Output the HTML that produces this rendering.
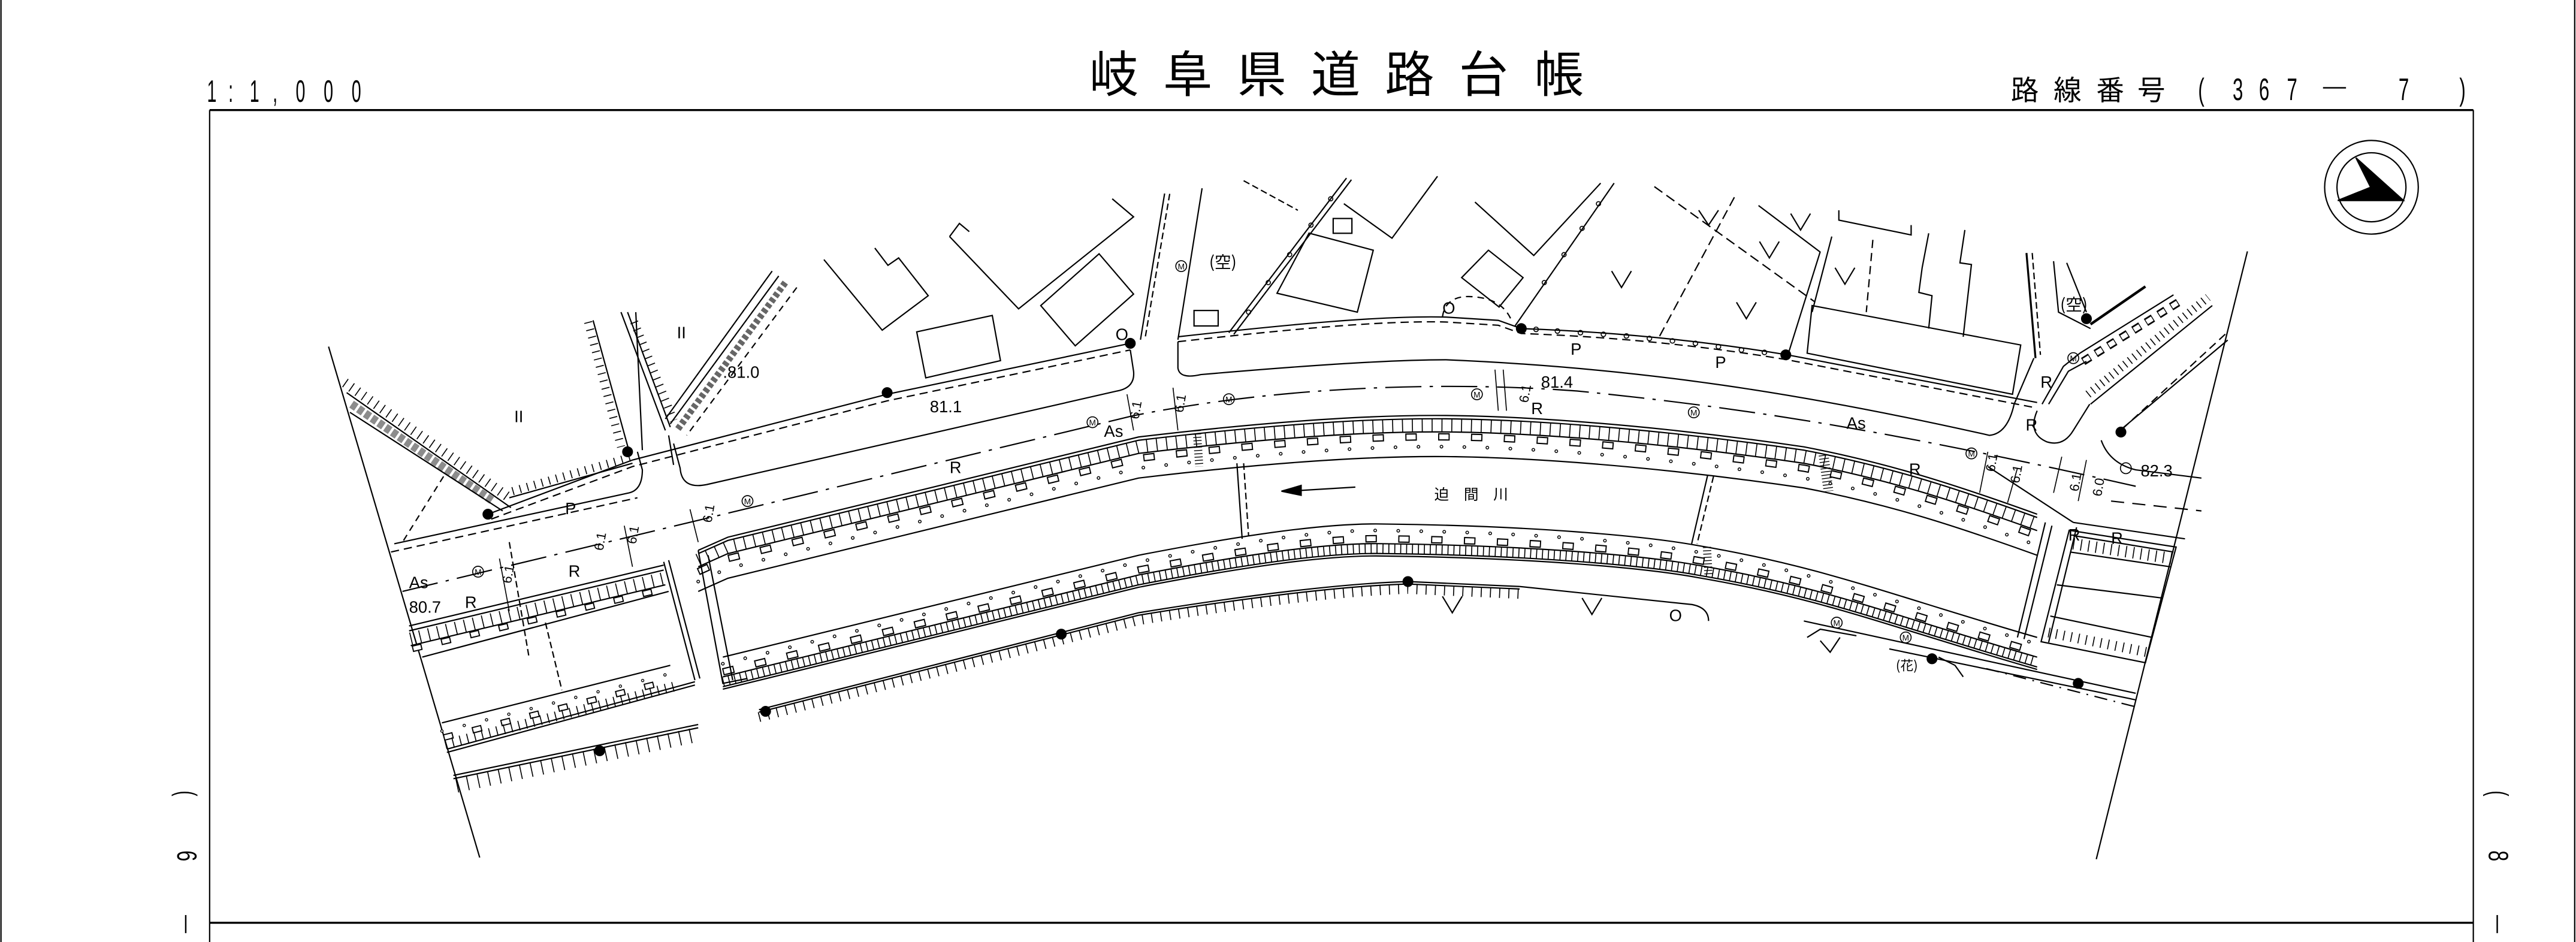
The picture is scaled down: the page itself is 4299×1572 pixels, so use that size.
<!DOCTYPE html>
<html><head><meta charset="utf-8"><style>
html,body{margin:0;padding:0;background:#fff;}
svg{display:block;}
text{font-family:"Liberation Sans","Noto Sans CJK JP",sans-serif;fill:#000;stroke:none;}
</style></head><body>
<svg width="4299" height="1572" viewBox="0 0 1568 573.4" preserveAspectRatio="none" xmlns="http://www.w3.org/2000/svg">
<defs>
<path id="NB" d="M 425 335 L 443 327 L 693 266 C 760 258 830 252 886 253 C 950 254 1030 262 1098 272 C 1150 282 1190 295 1240 313"/>
<path id="SB" d="M 440 400 L 693 338 C 760 325 810 318 844 319 C 930 320 1000 326 1033 332 C 1110 345 1150 362 1240 388"/>
<path id="SBK" d="M 462 432 L 693 373 C 760 362 820 355 857 354 L 925 357"/>
<path id="LT" d="M 249 381 L 404 344"/>
<path id="LB" d="M 269 440 L 408 405"/>
</defs>
<rect width="1568" height="573.4" fill="#fff"/>
<g stroke="#000" fill="none" stroke-width="0.8">
<!-- sheet lines -->
<line x1="0.6" y1="0" x2="0.6" y2="573.4"/>
<line x1="1567.2" y1="0" x2="1567.2" y2="573.4"/>
<line x1="127.6" y1="67" x2="1505.5" y2="67" stroke-width="1.2"/>
<line x1="127.6" y1="67" x2="127.6" y2="573.4"/>
<line x1="1505.5" y1="67" x2="1505.5" y2="573.4"/>
<line x1="127.6" y1="561.7" x2="1505.5" y2="561.7" stroke-width="1.2"/>
<!-- compass -->
<ellipse cx="1443.5" cy="114" rx="28.5" ry="28.5"/>
<ellipse cx="1443.5" cy="114" rx="21" ry="21"/>
<line x1="1423" y1="122" x2="1463" y2="122"/>
<polygon points="1434,96 1443,114 1423,122 1463,122" fill="#000"/>

<!-- boundaries -->
<line x1="200" y1="211" x2="292" y2="522"/>
<line x1="1368" y1="153" x2="1276" y2="523"/>

<!-- north road boundary -->
<path d="M 297 313 L 385 280 L 540 240 L 688 209"/>
<path d="M 299 316 L 385 284 L 540 244 L 688 213" stroke-dasharray="5 3"/>
<path d="M 717 205 C 780 198 840 192 880 193 L 912 195 L 926 200 Q 1010 203 1088 216 L 1240 245"/>
<path d="M 717 208 C 780 201 840 195 880 196 L 912 198 L 926 203 Q 1010 206 1088 219 L 1238 248" stroke-dasharray="5 3"/>
<path d="M 878 193 Q 880 178 900 181 Q 915 183 920 195" stroke-dasharray="4 3"/>
<!-- curbs -->
<path d="M 430 295 L 680 238 Q 691 236 690 226 L 688 213"/>
<path d="M 717 208 L 717 224 Q 718 231 731 228 C 800 222 850 219 880 219 C 1000 224 1100 240 1211 265 Q 1222 264 1226 246 L 1238 218"/>
<path d="M 430 295 Q 415 298 414 285 L 410 270"/>
<!-- left road -->
<path d="M 240 331 L 383 300 Q 391 298 391 286 L 388 275"/>
<path d="M 238 336 L 388 303" stroke-dasharray="5 3"/>
<!-- center dash-dot -->
<path d="M 245 360 L 690 253 C 780 235 880 232 960 238 C 1060 248 1150 262 1300 296" stroke-dasharray="22 5 2 5"/>

<!-- river north band -->
<use href="#NB"/>
<use href="#NB" transform="translate(0,2)"/>
<use href="#NB" transform="translate(0,6)" stroke-width="8" stroke-dasharray="0.6 5.4"/>
<use href="#NB" transform="translate(0,10)"/>
<use href="#NB" transform="translate(0,13)" stroke-width="4.5" stroke-dasharray="7 13"/>
<use href="#NB" transform="translate(0,13)" stroke-width="3" stroke="#fff" stroke-dasharray="5.6 14.4" stroke-dashoffset="-0.7"/>
<use href="#NB" transform="translate(0,19)" stroke-width="2.2" stroke-linecap="round" stroke-dasharray="0 14"/>
<use href="#NB" transform="translate(0,19)" stroke-width="1.1" stroke="#fff" stroke-linecap="round" stroke-dasharray="0 14"/>
<use href="#NB" transform="translate(0,25)"/>
<!-- river south band -->
<use href="#SB"/>
<use href="#SB" transform="translate(0,4)" stroke-width="2.2" stroke-linecap="round" stroke-dasharray="0 14"/>
<use href="#SB" transform="translate(0,4)" stroke-width="1.1" stroke="#fff" stroke-linecap="round" stroke-dasharray="0 14"/>
<use href="#SB" transform="translate(0,9)" stroke-width="4.5" stroke-dasharray="7 13"/>
<use href="#SB" transform="translate(0,9)" stroke-width="3" stroke="#fff" stroke-dasharray="5.6 14.4" stroke-dashoffset="-0.7"/>
<use href="#SB" transform="translate(0,12)"/>
<use href="#SB" transform="translate(0,15)" stroke-width="6" stroke-dasharray="0.6 3"/>
<use href="#SB" transform="translate(0,18)"/>
<use href="#SB" transform="translate(0,19.5)"/>
<!-- river ends -->
<path d="M 425 335 L 440 416 L 455 413"/>
<path d="M 431 338 L 446 414"/>
<path d="M 1245 318 L 1228 388"/>
<path d="M 1249 320 L 1232 389"/>
<!-- river cross lines -->
<line x1="752.9" y1="282" x2="756.1" y2="328"/>
<line x1="757" y1="282" x2="760" y2="326" stroke-dasharray="4 2"/>
<line x1="1039.5" y1="289" x2="1029.7" y2="331"/>
<line x1="1043" y1="290" x2="1033" y2="331" stroke-dasharray="4 2"/>
<!-- hatch crossings -->
<line x1="728.5" y1="262" x2="730" y2="284" stroke-width="5" stroke-dasharray="0.5 1.5"/>
<line x1="1110" y1="277" x2="1113" y2="299" stroke-width="6" stroke-dasharray="0.5 1.5"/>
<line x1="1039" y1="333" x2="1040" y2="351" stroke-width="5" stroke-dasharray="0.5 1.5"/>
<!-- river arrow -->
<line x1="792" y1="298.5" x2="825" y2="296.5"/>
<polygon points="780,299 792,295.5 792,301.5" fill="#000"/>

<!-- south bank -->
<use href="#SBK"/>
<use href="#SBK" transform="translate(0,1.5)"/>
<use href="#SBK" transform="translate(0,4.5)" stroke-width="6" stroke-dasharray="0.6 5"/>
<path d="M 925 357 L 1030 368 Q 1040 370 1040 378"/>
<path d="M 276 472 L 425 441"/>
<path d="M 276 474 L 425 443"/>
<path d="M 278 478 L 425 447" stroke-width="9" stroke-dasharray="0.6 6"/>

<!-- left block -->
<use href="#LT"/>
<use href="#LT" transform="translate(0,3)"/>
<use href="#LT" transform="translate(1,8)" stroke-width="8" stroke-dasharray="0.6 5"/>
<use href="#LT" transform="translate(1,12)"/>
<use href="#LT" transform="translate(2,14)" stroke-width="4" stroke-dasharray="6 12"/>
<use href="#LT" transform="translate(2,14)" stroke-width="2.6" stroke="#fff" stroke-dasharray="4.6 13.4" stroke-dashoffset="-0.7"/>
<path d="M 257 400 L 407 360"/>
<use href="#LB"/>
<use href="#LB" transform="translate(0,5)" stroke-width="2" stroke-linecap="round" stroke-dasharray="0 14"/>
<use href="#LB" transform="translate(0,5)" stroke-width="1" stroke="#fff" stroke-linecap="round" stroke-dasharray="0 14"/>
<use href="#LB" transform="translate(1,9)" stroke-width="4" stroke-dasharray="6 12"/>
<use href="#LB" transform="translate(1,9)" stroke-width="2.6" stroke="#fff" stroke-dasharray="4.6 13.4" stroke-dashoffset="-0.7"/>
<use href="#LB" transform="translate(2,13)" stroke-width="6" stroke-dasharray="0.6 4"/>
<path d="M 272 456 L 423 415"/>
<path d="M 272 458 L 423 417"/>
<path d="M 404 342 L 423 414"/>
<path d="M 407 341 L 426 413"/>
<line x1="332" y1="379" x2="342" y2="420" stroke-dasharray="4 2"/>
<line x1="310" y1="330" x2="322" y2="400" stroke-dasharray="4 2"/>

<!-- NW banks -->
<path d="M 211 239 L 311 309"/>
<path d="M 213 251 L 306 311"/>
<path d="M 210 233 L 310 303" stroke-width="6" stroke-dasharray="0.6 4"/>
<path d="M 214 246 L 300 305" stroke-width="5" stroke-dasharray="3.5 1.5" stroke="#000" opacity="0.45"/>
<path d="M 310 303 L 385 282"/>
<path d="M 312 299 L 385 278" stroke-width="5" stroke-dasharray="0.6 4"/>
<path d="M 361 195 L 383 275"/>
<path d="M 358 196 L 378 272" stroke-width="5" stroke-dasharray="0.6 4"/>
<path d="M 387 190 L 391 274"/>
<path d="M 378 190 L 405 262"/>
<path d="M 382 190 L 408 260"/>
<path d="M 386 196 L 410 256" stroke-width="5" stroke-dasharray="0.6 4"/>
<path d="M 470 165 L 405 255"/>
<path d="M 474 168 L 408 258"/>
<path d="M 478 172 L 412 262" stroke-width="4" stroke-dasharray="2.5 1.5" opacity="0.6"/>
<path d="M 485 175 L 418 265" stroke-dasharray="4 3"/>
<path d="M 407 265 L 410 283"/>
<line x1="270" y1="290" x2="245" y2="330" stroke-dasharray="4 3"/>

<!-- buildings top-left -->
<polyline points="501.5,158 537,201 565,180 547,157 540.5,161.5 532.5,151"/>
<polyline points="578,144 620,188 690,132 677,121"/>
<polyline points="578,144 584,136 590,141"/>
<polygon points="558,202 604,192 609,219.5 563.5,230"/>
<polygon points="633.5,186 669,154.5 690,179 654.5,210.5"/>
<!-- crossroad north -->
<line x1="708.9" y1="117.8" x2="694.2" y2="206.8"/>
<line x1="712" y1="118" x2="697" y2="206" stroke-dasharray="4 2"/>
<line x1="731.7" y1="114.6" x2="717" y2="206.8"/>
<line x1="819.6" y1="108.4" x2="748" y2="202.5"/>
<line x1="822.6" y1="109.4" x2="751" y2="203.5"/>
<line x1="757" y1="110" x2="790" y2="128" stroke-dasharray="4 2"/>
<polygon points="777.3,178.5 796.8,141.9 835.9,152.3 826.2,190"/>
<rect x="811.5" y="133" width="11.4" height="9"/>
<rect x="726.8" y="189" width="14.7" height="9.4"/>
<polyline points="818,124 847.3,145 875,107.3"/>
<polyline points="897.8,123 933.6,155.5 974.3,111.5"/>
<polygon points="889.7,169 906,152.3 927.1,169 912.5,186.9"/>
<line x1="922.2" y1="198.4" x2="982.5" y2="111.5"/>
<line x1="1007" y1="113.6" x2="1104.6" y2="183.7" stroke-dasharray="6 3"/>
<line x1="1010.2" y1="204.6" x2="1055.8" y2="119.9" stroke-dasharray="6 3"/>
<polyline points="1070.4,125.1 1107.9,153.4 1088.3,216"/>
<polyline points="1119.3,128 1119.3,134 1163.3,143 1163.3,137"/>
<line x1="1115" y1="144" x2="1103" y2="190"/>
<line x1="1140" y1="146" x2="1136" y2="190" stroke-dasharray="5 3"/>
<polyline points="1174,142 1170,163 1168,178 1176,180 1174,200"/>
<polygon points="1103,186 1230,210 1225,240 1100,215"/>
<polyline points="1196,140 1193,160 1200,161 1195,205"/>
<!-- V symbols -->
<polyline points="981,165 987,175 993,165"/>
<polyline points="1071,147 1077,157 1083,147"/>
<polyline points="1057,184 1063,194 1069,184"/>
<polyline points="1034,128 1040,137 1046,128"/>
<polyline points="1090,130 1096,140 1102,130"/>
<polyline points="1117,163 1123,173 1129,163"/>
<polyline points="878,363 884,373 890,363"/>
<polyline points="963,364 969,374 975,364"/>
<polyline points="1108,390 1114,397 1120,388"/>
<!-- fence circles -->
<g stroke-width="0.6">
<circle cx="935" cy="200.5" r="1.4"/><circle cx="948" cy="201.5" r="1.4"/><circle cx="962" cy="202.5" r="1.4"/><circle cx="976" cy="203.5" r="1.4"/><circle cx="990" cy="204.5" r="1.4"/><circle cx="1004" cy="206" r="1.4"/><circle cx="1018" cy="207.5" r="1.4"/><circle cx="1032" cy="209" r="1.4"/><circle cx="1046" cy="211" r="1.4"/><circle cx="1060" cy="213" r="1.4"/><circle cx="1074" cy="214.5" r="1.4"/>
<circle cx="940" cy="172" r="1.3"/><circle cx="952" cy="155" r="1.3"/><circle cx="963" cy="139" r="1.3"/><circle cx="973" cy="124" r="1.3"/>
<circle cx="760" cy="190" r="1.3"/><circle cx="772" cy="172" r="1.3"/><circle cx="785" cy="155" r="1.3"/><circle cx="798" cy="137" r="1.3"/><circle cx="810" cy="121" r="1.3"/>
</g>

<!-- right side -->
<path d="M 1233.5 154 L 1239 218" stroke-width="1.2"/>
<path d="M 1237 154 L 1242 216" stroke-dasharray="4 2"/>
<polyline points="1250,159 1253,190 1272.5,200"/>
<line x1="1258" y1="160" x2="1270" y2="190"/>
<line x1="1272.5" y1="197.4" x2="1305.9" y2="174.4" stroke-width="1.6"/>
<line x1="1266" y1="215" x2="1323" y2="179.5"/>
<line x1="1268" y1="220" x2="1326" y2="184" stroke-width="5" stroke-dasharray="5 4"/>
<line x1="1268" y1="220" x2="1326" y2="184" stroke-width="3" stroke="#fff" stroke-dasharray="4 5" stroke-dashoffset="-0.5"/>
<line x1="1272.5" y1="246" x2="1346.6" y2="186"/>
<line x1="1271" y1="240" x2="1344" y2="181" stroke-width="5" stroke-dasharray="0.6 3"/>
<line x1="1292" y1="261" x2="1355.5" y2="202.5" stroke-dasharray="5 3"/>
<line x1="1288" y1="264" x2="1356" y2="207"/>
<polyline points="1243,246 1256,223 1266,215"/>
<polyline points="1247,246 1259,226 1270,220"/>
<path d="M 1240 250 Q 1234 264 1246 269 Q 1256 272 1262 262 L 1272 246"/>
<path d="M 1279 268 Q 1284 282 1300 286 L 1340 291"/>
<path d="M 1262 318 L 1330 328"/>
<path d="M 1285 305 L 1340 311" stroke-dasharray="8 5"/>
<path d="M 1210 284 L 1262 318"/>
<!-- block B -->
<polygon points="1259.5,322.8 1324.6,333 1305.9,403.4 1242.4,390.6"/>
<line x1="1262" y1="326" x2="1323" y2="336"/>
<line x1="1262" y1="331" x2="1322" y2="340" stroke-width="7" stroke-dasharray="0.6 4"/>
<line x1="1260" y1="336" x2="1321" y2="345"/>
<line x1="1252" y1="356" x2="1316" y2="364"/>
<line x1="1248" y1="375" x2="1310" y2="388"/>
<line x1="1247" y1="385" x2="1307" y2="397" stroke-width="6" stroke-dasharray="0.6 4"/>
<line x1="1264" y1="321" x2="1247" y2="391"/>
<!-- right road south -->
<path d="M 1098 378 L 1300 422"/>
<path d="M 1150 395 L 1300 426"/>
<path d="M 1209 407 L 1299 430" stroke-dasharray="8 4 1 4"/>
<polyline points="1100,388 1108,383 1130,387"/>
<polyline points="1180,400 1190,405 1195,412"/>

<!-- dimension lines -->
<g stroke-width="0.6">
<line x1="304" y1="340" x2="310" y2="372"/><line x1="380" y1="320" x2="385" y2="345"/>
<line x1="686" y1="240" x2="690" y2="262"/><line x1="714" y1="236" x2="717" y2="262"/>
<line x1="910" y1="225" x2="912" y2="250"/><line x1="915" y1="225" x2="917" y2="250"/>
<line x1="1210" y1="275" x2="1205" y2="300"/><line x1="1228" y1="285" x2="1222" y2="306"/>
<line x1="1255" y1="278" x2="1250" y2="300"/><line x1="1270" y1="280" x2="1265" y2="305"/>
<line x1="420" y1="310" x2="425" y2="330"/>
</g>
</g>

<!-- black dots -->
<g fill="#000">
<circle cx="297" cy="313" r="3.3"/><circle cx="382" cy="275" r="3.3"/><circle cx="540" cy="239" r="3.3"/><circle cx="688" cy="209" r="3.3"/>
<circle cx="926" cy="200" r="3.3"/><circle cx="1087" cy="216" r="3.3"/><circle cx="1270" cy="194" r="3.3"/><circle cx="1291" cy="263" r="3.3"/>
<circle cx="857" cy="354" r="3.3"/><circle cx="646" cy="386" r="3.3"/><circle cx="466" cy="433" r="3.3"/><circle cx="365" cy="457" r="3.3"/>
<circle cx="1176" cy="401" r="3.3"/><circle cx="1265" cy="416" r="3.3"/>
</g>

<!-- header text -->
<g font-size="19">
<text transform="translate(126,62) scale(0.55,1)">1</text>
<text transform="translate(139,62) scale(0.55,1)">:</text>
<text transform="translate(152,62) scale(0.55,1)">1</text>
<text transform="translate(166,62) scale(0.55,1)">,</text>
<text transform="translate(180,62) scale(0.55,1)">0</text>
<text transform="translate(197,62) scale(0.55,1)">0</text>
<text transform="translate(214,62) scale(0.55,1)">0</text>
</g>
<g font-size="30" style="font-family:'Noto Sans CJK JP',sans-serif">
<text x="663" y="56">岐</text><text x="708" y="56">阜</text><text x="753" y="56">県</text><text x="798" y="56">道</text><text x="843" y="56">路</text><text x="888" y="56">台</text><text x="934" y="56">帳</text>
</g>
<g font-size="17" style="font-family:'Noto Sans CJK JP',sans-serif">
<text x="1224" y="61">路</text><text x="1250" y="61">線</text><text x="1276" y="61">番</text><text x="1301" y="61">号</text>
</g>
<g font-size="19">
<text transform="translate(1338,61) scale(0.6,1)">(</text>
<text transform="translate(1359,61) scale(0.6,1)">3</text>
<text transform="translate(1375,61) scale(0.6,1)">6</text>
<text transform="translate(1392,61) scale(0.6,1)">7</text>
<rect x="1414" y="53" width="14" height="0.9" fill="#000"/>
<text transform="translate(1460,61) scale(0.6,1)">7</text>
<text transform="translate(1497,61) scale(0.6,1)">)</text>
</g>
<!-- side labels -->
<g font-size="17">
<text transform="translate(108,483) rotate(90) scale(0.6,1)" text-anchor="middle">(</text>
<text transform="translate(108,521) rotate(90) scale(0.7,1)" text-anchor="middle">6</text>
<rect x="112.6" y="557" width="0.9" height="11" fill="#000"/>
<text transform="translate(1515,483) rotate(90) scale(0.6,1)" text-anchor="middle">(</text>
<text transform="translate(1515,521) rotate(90) scale(0.7,1)" text-anchor="middle">8</text>
<rect x="1519.6" y="557" width="0.9" height="11" fill="#000"/>
</g>

<!-- map labels -->
<g font-size="10">
<text x="440" y="230">.81.0</text>
<text x="566" y="251">81.1</text>
<text x="938" y="236">81.4</text>
<text x="249" y="373">80.7</text><text x="283" y="370">R</text>
<text x="1303" y="290">82.3</text>
<text x="412" y="206">II</text><text x="313" y="257">II</text>
<text x="344" y="313">P</text><text x="956" y="216">P</text><text x="1044" y="224">P</text>
<text x="578" y="288">R</text><text x="346" y="351">R</text><text x="932" y="252">R</text><text x="1162" y="289">R</text>
<text x="1285" y="331">R</text><text x="1259" y="329">R</text><text x="1242" y="236">R</text><text x="1233" y="262">R</text>
<text x="249" y="358">As</text><text x="672" y="266">As</text><text x="1124" y="261">As</text>
<text x="679" y="207">O</text><text x="878" y="191">O</text><text x="1016" y="378">O</text>
<text x="873" y="304" font-size="9" style="font-family:'Noto Sans CJK JP',sans-serif" letter-spacing="9">迫間川</text>
<text x="736" y="163" font-size="10" style="font-family:'Noto Sans CJK JP',sans-serif">(空)</text>
<text x="1254" y="189" font-size="10" style="font-family:'Noto Sans CJK JP',sans-serif">(空)</text>
<text x="1154" y="408" font-size="8" style="font-family:'Noto Sans CJK JP',sans-serif">(花)</text>
</g>
<g font-size="8" text-anchor="middle">
<text transform="translate(694,250) rotate(-80)">6.1</text>
<text transform="translate(721,246) rotate(-80)">6.1</text>
<text transform="translate(931,240) rotate(-80)">6.1</text>
<text transform="translate(312,350) rotate(-80)">6.1</text>
<text transform="translate(368,330) rotate(-80)">6.1</text>
<text transform="translate(388,326) rotate(-80)">6.1</text>
<text transform="translate(434,313) rotate(-80)">6.1</text>
<text transform="translate(1215,282) rotate(-80)">6.1</text>
<text transform="translate(1230,289) rotate(-80)">6.1</text>
<text transform="translate(1266,294) rotate(-80)">6.1</text>
<text transform="translate(1280,297) rotate(-80)">6.0</text>
</g>
<g fill="none" stroke="#000" stroke-width="0.6">
<circle cx="291" cy="348" r="3.3"/><circle cx="455" cy="305" r="3.3"/><circle cx="665" cy="257" r="3.3"/><circle cx="748" cy="243" r="3.3"/>
<circle cx="899" cy="240" r="3.3"/><circle cx="1031" cy="251" r="3.3"/><circle cx="719" cy="162" r="3.3"/><circle cx="1118" cy="379" r="3.3"/>
<circle cx="1160" cy="388" r="3.3"/><circle cx="1262" cy="218" r="3.3"/><circle cx="1200" cy="276" r="3.3"/><circle cx="1294" cy="285" r="3.3"/>
</g>
<g font-size="5" text-anchor="middle">
<text x="291" y="350">M</text><text x="455" y="307">M</text><text x="665" y="259">M</text><text x="748" y="245">M</text>
<text x="899" y="242">M</text><text x="1031" y="253">M</text><text x="719" y="164">M</text><text x="1118" y="381">M</text>
<text x="1160" y="390">M</text><text x="1262" y="220">M</text><text x="1200" y="278">M</text>
</g>
</svg>
</body></html>
